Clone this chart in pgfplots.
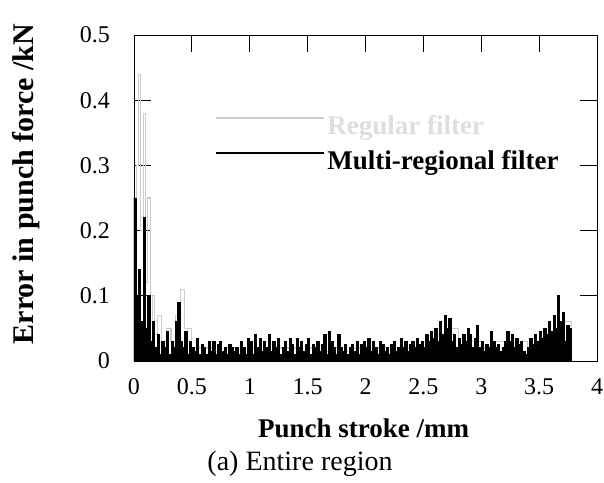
\documentclass[border=0pt]{standalone}
\usepackage{pgfplots}
\pgfplotsset{compat=1.18}
\usepackage{fontspec}
\setmainfont{Liberation Serif}
\begin{document}
\begin{tikzpicture}
\begin{axis}[
  scale only axis,
  width=463pt, height=326pt,
  xmin=0, xmax=4, ymin=0, ymax=0.5,
  xtick={0,0.5,...,4}, ytick={0,0.1,...,0.5},
  tick align=inside,
  major tick length=17pt,
  axis line style={line width=0.9pt},
  tick style={black, line width=0.9pt},
  /pgf/number format/assume math mode=true,
  tick label style={font=\fontsize{24}{28}\selectfont, inner sep=0pt},
  xticklabel style={anchor=north, yshift=-17pt},
  yticklabel style={anchor=east, xshift=-24pt},
  xlabel={\textbf{Punch stroke /mm}},
  ylabel={\textbf{Error in punch force /kN}},
  xlabel style={font=\fontsize{27}{31}\selectfont, at={(axis description cs:0.496,-0.206)}, anchor=center},
  ylabel style={font=\fontsize{30}{34}\selectfont, at={(axis description cs:-0.233,0.543)}, anchor=center},
  legend style={at={(axis cs:0.70,0.380)}, anchor=north west, draw=none, fill=none,
     font=\fontsize{27}{31}\selectfont\bfseries, row sep=11pt, inner sep=0pt,
     nodes={inner sep=2pt}},
  legend cell align=left,
  legend image code/.code={\draw[#1, line width=2.2pt] (0pt,8pt) -- (108pt,8pt);},
  clip=true,
]
\addplot[const plot, color=black!20, line width=1.1pt] coordinates {
(0.00,0.15) (0.02,0.30) (0.04,0.44) (0.06,0.20) (0.08,0.38) (0.10,0.12)
(0.12,0.25) (0.14,0.06) (0.16,0.10) (0.18,0.04) (0.20,0.07) (0.24,0.03)
(0.28,0.05) (0.32,0.03) (0.36,0.07) (0.40,0.11) (0.44,0.05) (0.50,0.02)
(0.60,0.02) (0.70,0.015) (0.80,0.02) (0.90,0.01) (1.00,0.02) (1.10,0.015)
(1.20,0.02) (1.30,0.02) (1.40,0.015) (1.50,0.02) (1.60,0.015) (1.70,0.02)
(1.80,0.015) (1.90,0.02) (2.00,0.015) (2.10,0.02) (2.20,0.01) (2.30,0.02)
(2.40,0.02) (2.50,0.02) (2.60,0.04) (2.70,0.05) (2.80,0.02) (2.90,0.03)
(3.00,0.02) (3.10,0.03) (3.20,0.02) (3.30,0.03) (3.40,0.01) (3.50,0.03)
(3.60,0.04) (3.70,0.06) (3.78,0.04)
};
\addlegendentry{\color{black!13}Regular filter}
\addplot[const plot, color=black, fill=black, line width=1pt] coordinates {
(0.00,0.25) (0.02,0.10) (0.04,0.14) (0.06,0.06) (0.08,0.22) (0.10,0.05)
(0.12,0.10) (0.14,0.03) (0.16,0.06) (0.18,0.02) (0.20,0.04) (0.22,0.01)
(0.24,0.03) (0.26,0.02) (0.28,0.045) (0.30,0.01) (0.32,0.03) (0.34,0.02)
(0.36,0.06) (0.38,0.09) (0.40,0.03) (0.42,0.02) (0.44,0.045) (0.46,0.01)
(0.48,0.03) (0.50,0.02) (0.52,0.015) (0.54,0.035) (0.56,0.01) (0.58,0.025)
(0.60,0.02) (0.62,0.01) (0.64,0.03) (0.66,0.015) (0.68,0.03) (0.70,0.01)
(0.72,0.025) (0.74,0.03) (0.76,0.015) (0.78,0.02) (0.80,0.01) (0.82,0.025)
(0.84,0.02) (0.86,0.015) (0.88,0.02) (0.90,0.01) (0.92,0.03) (0.94,0.02)
(0.96,0.01) (0.98,0.035) (1.00,0.03) (1.02,0.01) (1.04,0.04) (1.06,0.02)
(1.08,0.035) (1.10,0.015) (1.12,0.03) (1.14,0.02) (1.16,0.04) (1.18,0.015)
(1.20,0.03) (1.22,0.02) (1.24,0.035) (1.26,0.01) (1.28,0.02) (1.30,0.03)
(1.32,0.015) (1.34,0.035) (1.36,0.025) (1.38,0.01) (1.40,0.035) (1.42,0.02)
(1.44,0.03) (1.46,0.015) (1.48,0.025) (1.50,0.035) (1.52,0.01) (1.54,0.025)
(1.56,0.02) (1.58,0.03) (1.60,0.015) (1.62,0.025) (1.64,0.04) (1.66,0.01)
(1.68,0.045) (1.70,0.03) (1.72,0.02) (1.74,0.01) (1.76,0.04) (1.78,0.02)
(1.80,0.015) (1.82,0.025) (1.84,0.01) (1.86,0.02) (1.88,0.025) (1.90,0.015)
(1.92,0.03) (1.94,0.01) (1.96,0.025) (1.98,0.03) (2.00,0.02) (2.02,0.035)
(2.04,0.015) (2.06,0.03) (2.08,0.02) (2.10,0.01) (2.12,0.03) (2.14,0.025)
(2.16,0.015) (2.18,0.02) (2.20,0.01) (2.22,0.025) (2.24,0.03) (2.26,0.015)
(2.28,0.02) (2.30,0.035) (2.32,0.02) (2.34,0.03) (2.36,0.015) (2.38,0.025)
(2.40,0.03) (2.42,0.02) (2.44,0.035) (2.46,0.025) (2.48,0.03) (2.50,0.02)
(2.52,0.04) (2.54,0.03) (2.56,0.045) (2.58,0.035) (2.60,0.05) (2.62,0.03)
(2.64,0.06) (2.66,0.04) (2.68,0.07) (2.70,0.05) (2.72,0.065) (2.74,0.03)
(2.76,0.04) (2.78,0.02) (2.80,0.035) (2.82,0.025) (2.84,0.04) (2.86,0.03)
(2.88,0.05) (2.90,0.04) (2.92,0.02) (2.94,0.035) (2.96,0.055) (2.98,0.02)
(3.00,0.03) (3.02,0.015) (3.04,0.025) (3.06,0.02) (3.08,0.045) (3.10,0.03)
(3.12,0.02) (3.14,0.025) (3.16,0.015) (3.18,0.02) (3.20,0.03) (3.22,0.045)
(3.24,0.03) (3.26,0.04) (3.28,0.02) (3.30,0.035) (3.32,0.025) (3.34,0.03)
(3.36,0.015) (3.38,0.01) (3.40,0.02) (3.42,0.035) (3.44,0.025) (3.46,0.04)
(3.48,0.03) (3.50,0.045) (3.52,0.035) (3.54,0.05) (3.56,0.04) (3.58,0.06)
(3.60,0.045) (3.62,0.07) (3.64,0.05) (3.66,0.10) (3.68,0.06) (3.70,0.075)
(3.72,0.03) (3.74,0.055) (3.76,0.05) (3.78,0.05)
} \closedcycle;
\addlegendentry{Multi-regional filter}
\end{axis}
\node[font=\fontsize{28}{32}\selectfont, anchor=center] at (166pt,-103pt) {(a) Entire region};
\path (-134pt,-121pt) rectangle (470pt,361pt);
\end{tikzpicture}
\end{document}
